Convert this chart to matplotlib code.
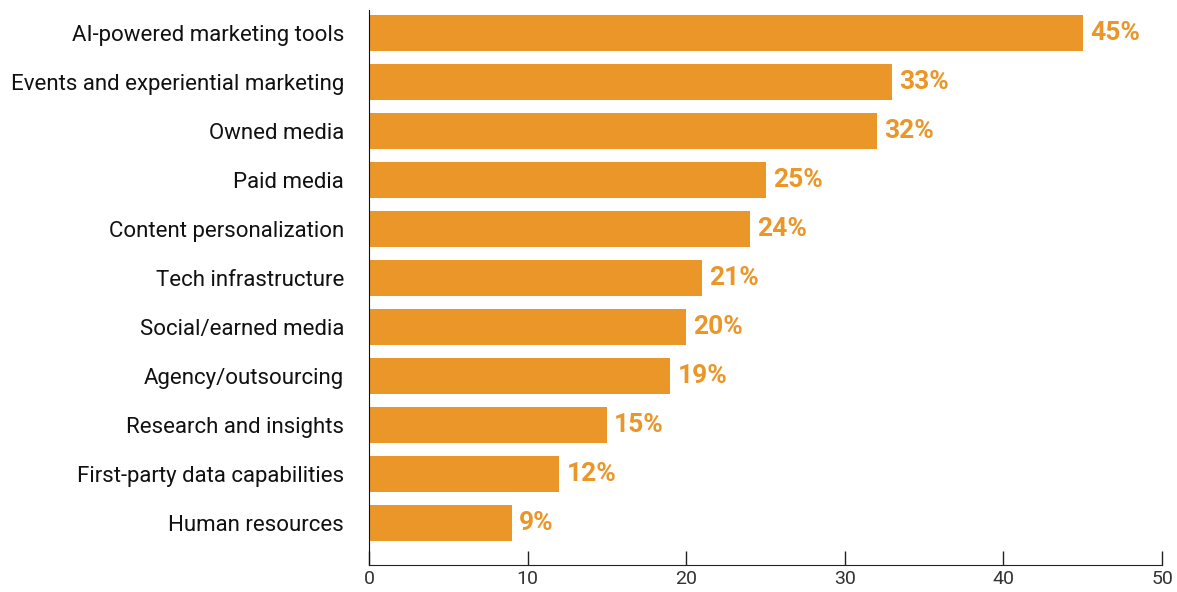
import matplotlib.pyplot as plt

categories = ['AI-powered marketing tools', 'Events and experiential marketing',
              'Owned media', 'Paid media', 'Content personalization',
              'Tech infrastructure', 'Social/earned media', 'Agency/outsourcing',
              'Research and insights', 'First-party data capabilities',
              'Human resources']
values = [45, 33, 32, 25, 24, 21, 20, 19, 15, 12, 9]
ticks = [0, 10, 20, 30, 40, 50]

bar_color = '#EA9628'

fig = plt.figure(figsize=(11.77, 5.92), dpi=100)
ax = fig.add_axes([0.3135, 0.046, 0.6738, 0.937])

ypos = list(range(len(categories)))
ax.barh(ypos, values, height=0.73, color=bar_color)
for y, v in zip(ypos, values):
    ax.text(v + 0.45, y, f'{v}%', va='center', ha='left', color=bar_color,
            fontsize=19, fontweight='bold', family='Roboto')

ax.set_ylim(10.86, -0.47)
ax.set_xlim(0, 50)
ax.set_yticks(ypos)
ax.set_yticklabels(categories, fontsize=16, family='Roboto', color='#111111')
ax.tick_params(axis='y', length=0, pad=18)
ax.set_xticks(ticks)
ax.set_xticklabels([str(t) for t in ticks], fontsize=14, color='#333333',
                   family='Roboto')
ax.tick_params(axis='x', direction='in', length=10, width=1, color='#222222', pad=4)
for s in ['top', 'right']:
    ax.spines[s].set_visible(False)
ax.spines['left'].set_color('#111111')
ax.spines['bottom'].set_color('#222222')

fig.savefig('out.png', dpi=100)
